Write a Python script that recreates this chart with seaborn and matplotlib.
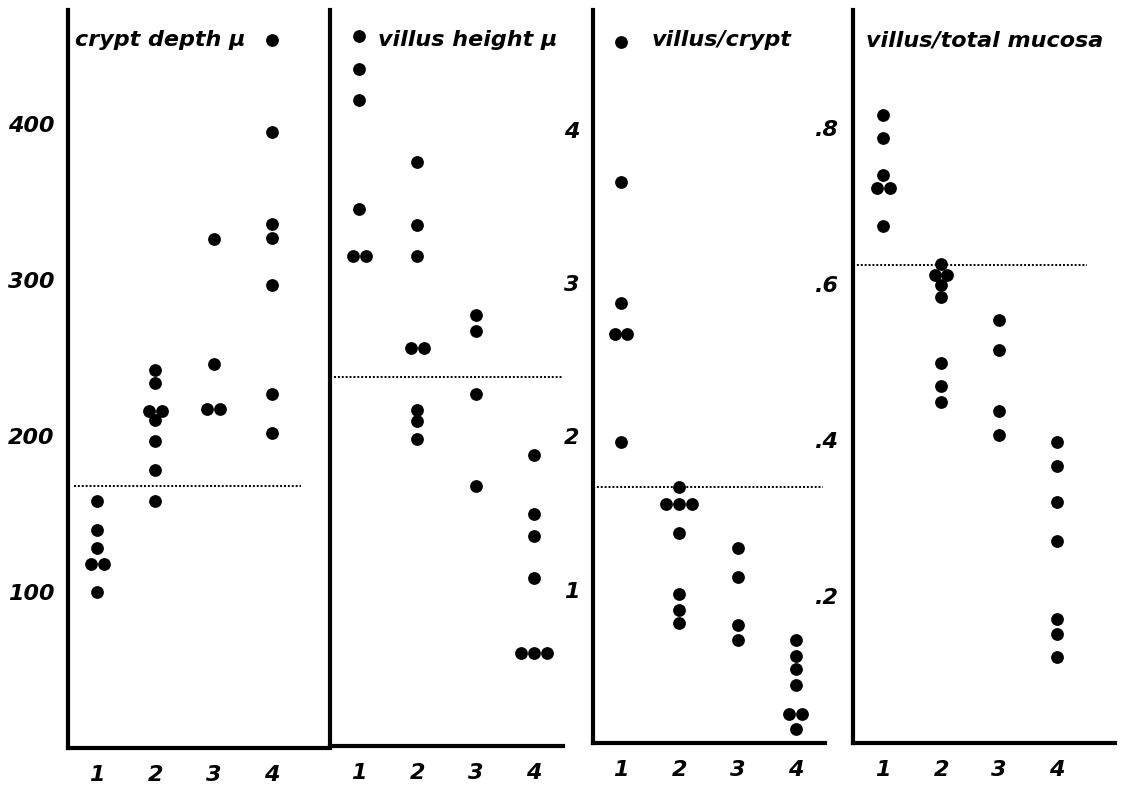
import matplotlib.pyplot as plt
import seaborn as sns
import pandas as pd
import numpy as np

groups = ["1", "2", "3", "4"]

crypt_depth = [
    [158, 140, 128, 118, 118, 100],
    [242, 234, 216, 216, 210, 197, 178, 158],
    [326, 246, 217, 217],
    [454, 395, 336, 327, 297, 227, 202],
]
villus_height = [
    [456, 435, 415, 345, 315, 315],
    [375, 335, 315, 256, 256, 216, 209, 197],
    [277, 267, 226, 167],
    [187, 149, 135, 108, 60, 60, 60],
]
villus_crypt = [
    [4.57, 3.66, 2.87, 2.67, 2.67, 1.96],
    [1.67, 1.56, 1.56, 1.56, 1.37, 0.97, 0.87, 0.78],
    [1.27, 1.08, 0.77, 0.67],
    [0.67, 0.57, 0.48, 0.38, 0.19, 0.19, 0.09],
]
villus_mucosa = [
    [0.817, 0.788, 0.740, 0.723, 0.723, 0.675],
    [0.626, 0.612, 0.612, 0.599, 0.584, 0.499, 0.469, 0.449],
    [0.554, 0.516, 0.437, 0.407],
    [0.398, 0.366, 0.320, 0.270, 0.170, 0.151, 0.122],
]

titles = ["crypt depth μ", "villus height μ", "villus/crypt", "villus/total mucosa"]
ref_lines = [168, 237, 1.67, 0.625]

y_ticks = [[100, 200, 300, 400], [], [1, 2, 3, 4], [0.2, 0.4, 0.6, 0.8]]
y_ticklabels = [["100", "200", "300", "400"], [], ["1", "2", "3", "4"], [".2", ".4", ".6", ".8"]]


def long_frame(values):
    rows = []
    for g, vals in zip(groups, values):
        for v in vals:
            rows.append({"group": g, "value": v})
    return pd.DataFrame(rows)


def spread_ties(ax, gap=0.22):
    # put equal values side by side, centred on their category
    for coll in ax.collections:
        off = np.array(coll.get_offsets(), dtype=float)
        if len(off) < 2:
            continue
        ties = {}
        for j, (x, y) in enumerate(off):
            ties.setdefault((round(x), y), []).append(j)
        for idx in ties.values():
            n = len(idx)
            for k, j in enumerate(idx):
                off[j, 0] += (k - (n - 1) / 2) * gap
        coll.set_offsets(off)


sns.set_style("white")
plt.rcParams["font.family"] = ["DejaVu Sans"]
plt.rcParams["text.color"] = "black"
font = dict(weight="bold", style="italic", color="black")

fig = plt.figure(figsize=(11.27, 7.91), dpi=100)
W, H = 1127, 791

# panel boxes in pixels: left, right, bottom, top
boxes = [(68, 330, 748, 10), (330, 563, 746, 10), (593, 825, 743, 10), (853, 1115, 743, 10)]
ylims = [(0, 473), (0, 473), (0, 4.78), (0.011, 0.952)]
xlims = [(-0.5, 4.0), (-0.5, 3.5), (-0.48, 3.5), (-0.52, 4.0)]
line_x = [(-0.4, 3.5), (-0.43, 3.5), (-0.48, 3.47), (-0.52, 3.52)]
title_x = [0.027, 0.206, 0.254, 0.05]

datasets = [crypt_depth, villus_height, villus_crypt, villus_mucosa]

for i, data in enumerate(datasets):
    l, r, b, t = boxes[i]
    ax = fig.add_axes([l / W, 1 - b / H, (r - l) / W, (b - t) / H])
    df = long_frame(data)
    sns.stripplot(data=df, x="group", y="value", order=groups, ax=ax,
                  color="black", size=9.2, linewidth=0, jitter=False)
    spread_ties(ax)
    ax.set_xlim(*xlims[i])
    ax.set_ylim(*ylims[i])
    ax.hlines(ref_lines[i], line_x[i][0], line_x[i][1], colors="black",
              linestyles=(0, (1, 1)), linewidth=1.4)
    ax.set_xlabel("")
    ax.set_ylabel("")
    ax.set_yticks(y_ticks[i])
    ax.set_yticklabels(y_ticklabels[i], fontsize=16, **font)
    ax.set_xticks(range(4))
    ax.set_xticklabels(groups, fontsize=16, **font)
    ax.tick_params(axis="both", length=0)
    ax.tick_params(axis="y", pad=10)
    ax.tick_params(axis="x", pad=12)
    for side in ["top", "right"]:
        ax.spines[side].set_visible(False)
    for side in ["left", "bottom"]:
        ax.spines[side].set_linewidth(3)
        ax.spines[side].set_color("black")
    ax.set_facecolor("none")
    ax.text(title_x[i], 0.959, titles[i], transform=ax.transAxes,
            ha="left", va="center", fontsize=16, **font)

fig.savefig("out.png", dpi=100)
